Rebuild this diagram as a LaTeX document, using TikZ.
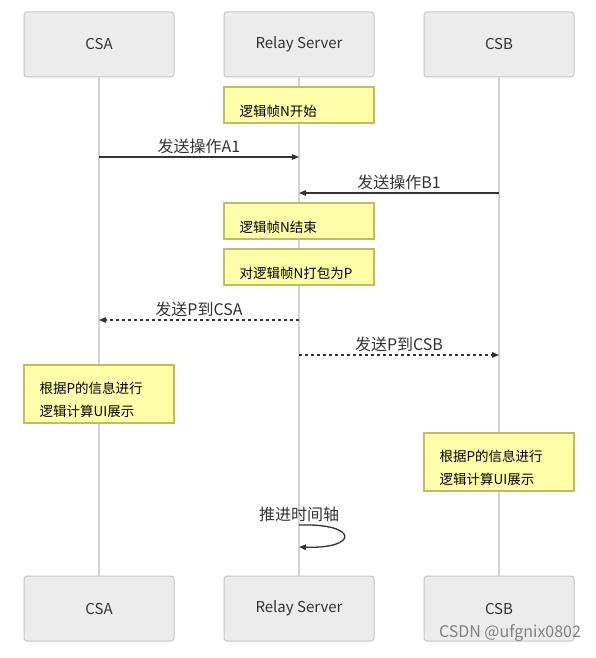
\documentclass[tikz,border=0pt]{standalone}
\usepackage{fontspec}
\setmainfont{Noto Sans CJK SC}
\usetikzlibrary{arrows.meta}

\definecolor{actfill}{HTML}{ECECEC}
\definecolor{actline}{HTML}{C6C6C6}
\definecolor{notefill}{HTML}{FFFFAA}
\definecolor{noteline}{HTML}{BDBD64}
\definecolor{lifecol}{HTML}{D3D3D3}
\definecolor{msgcol}{HTML}{333333}

\begin{document}
\begin{tikzpicture}[x=1pt, y=-1pt, >={Triangle[length=7pt,width=5.5pt]},
  actor/.style={draw=actline, fill=actfill, line width=1pt, rounded corners=3pt,
    minimum width=150pt, minimum height=65pt, inner sep=0pt,
    font=\fontsize{15}{18}\selectfont, text=msgcol},
  life/.style={draw=lifecol, line width=1.2pt},
  note/.style={draw=noteline, fill=notefill, line width=1.2pt, minimum width=150pt, inner sep=0pt},
  notetext/.style={anchor=west, inner sep=0pt, align=left, font=\fontsize{13.5}{23}\selectfont},
  msg/.style={->, draw=msgcol, line width=1.3pt},
  reply/.style={msg, dash pattern=on 3pt off 3pt},
  lbl/.style={inner sep=0pt, font=\fontsize{16}{19}\selectfont, text=msgcol, yshift=11pt}]
  \useasboundingbox[fill=white] (0,0) rectangle (596,658);

  % participants and lifelines
  \foreach \n/\x/\t in {csa/99/CSA, rel/299/Relay Server, csb/499/CSB} {
    \node[actor] (\n-top) at (\x,44.5) {\t};
    \node[actor] (\n-bot) at (\x,608.5) {\t};
    \draw[life] (\n-top) -- (\n-bot);
  }

  % rows of the messages
  \coordinate (m1) at (0,157);
  \coordinate (m2) at (0,193);
  \coordinate (m3) at (0,320);
  \coordinate (m4) at (0,355);
  \coordinate (m5) at (0,525);
  \coordinate (m6) at (0,547);

  % notes
  \node[note, minimum height=36pt] (n1) at (299,105) {};
  \node[notetext] (t1) at ([xshift=16pt,yshift=-6pt]n1.west) {逻辑帧N开始};

  \draw[msg] (csa-top |- m1) -- node[lbl] (l1) {发送操作A1} (rel-top |- m1);
  \draw[msg] (csb-top |- m2) -- node[lbl] (l2) {发送操作B1} (rel-top |- m2);

  \node[note, minimum height=36pt] (n2) at (299,221) {};
  \node[notetext] (t2) at ([xshift=16pt,yshift=-6pt]n2.west) {逻辑帧N结束};
  \node[note, minimum height=36pt] (n3) at (299,267) {};
  \node[notetext] (t3) at ([xshift=16pt,yshift=-6pt]n3.west) {对逻辑帧N打包为P};

  \draw[reply] (rel-top |- m3) -- node[lbl] (l3) {发送P到CSA} (csa-top |- m3);
  \draw[reply] (rel-top |- m4) -- node[lbl] (l4) {发送P到CSB} (csb-top |- m4);

  \node[note, minimum height=58pt] (n4) at (99,394) {};
  \node[notetext] (t4) at ([xshift=16pt,yshift=-6pt]n4.west) {根据P的信息进行\\逻辑计算UI展示};
  \node[note, minimum height=58pt] (n5) at (499,462) {};
  \node[notetext] (t5) at ([xshift=16pt,yshift=-6pt]n5.west) {根据P的信息进行\\逻辑计算UI展示};

  % self message
  \node[lbl] (l5) at (rel-top |- m5) {推进时间轴};
  \draw[msg] (rel-top |- m5) .. controls +(60,-2) and +(60,2) .. (rel-top |- m6);

  \node[text=gray, font=\fontsize{16}{19}\selectfont] (wm) at (510,633) {CSDN @ufgnix0802};
\end{tikzpicture}
\end{document}
